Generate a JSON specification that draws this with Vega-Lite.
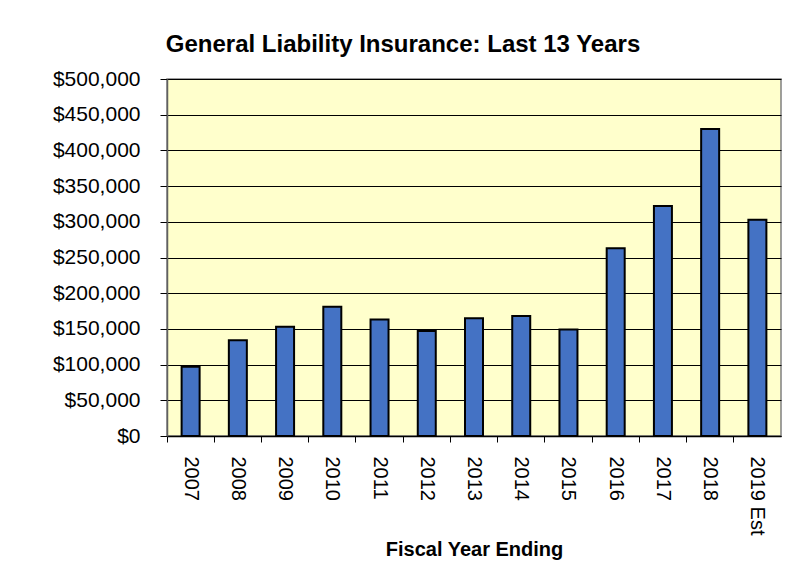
{
  "$schema": "https://vega.github.io/schema/vega-lite/v6.json",
  "autosize": {"type": "none"},
  "width": 614,
  "height": 357,
  "padding": {"left": 167, "top": 79, "right": 19, "bottom": 144},
  "background": "white",
  "title": {
    "text": "General Liability Insurance: Last 13 Years",
    "font": "Liberation Sans",
    "fontSize": 24,
    "fontWeight": "bold",
    "color": "black",
    "anchor": "middle",
    "dx": -71,
    "offset": 11
  },
  "config": {
    "view": {"fill": "#FFFFCC", "stroke": "#808080", "strokeWidth": 1.5},
    "font": "Liberation Sans"
  },
  "data": {
    "values": [
      {"year": "2007", "cost": 97000},
      {"year": "2008", "cost": 134000},
      {"year": "2009", "cost": 153000},
      {"year": "2010", "cost": 181000},
      {"year": "2011", "cost": 163000},
      {"year": "2012", "cost": 147000},
      {"year": "2013", "cost": 165000},
      {"year": "2014", "cost": 168000},
      {"year": "2015", "cost": 149000},
      {"year": "2016", "cost": 263000},
      {"year": "2017", "cost": 322000},
      {"year": "2018", "cost": 430000},
      {"year": "2019 Est", "cost": 303000}
    ]
  },
  "mark": {"type": "bar", "width": 18, "fill": "#4472C4", "stroke": "black", "strokeWidth": 2},
  "encoding": {
    "x": {
      "field": "year",
      "type": "nominal",
      "sort": null,
      "scale": {"paddingInner": 0, "paddingOuter": 0},
      "axis": {
        "title": "Fiscal Year Ending",
        "titleFont": "Liberation Sans",
        "titleFontSize": 20,
        "titleFontWeight": "bold",
        "titleColor": "black",
        "titlePadding": 5,
        "labelAngle": 90,
        "labelFont": "Liberation Sans",
        "labelFontSize": 20,
        "labelColor": "black",
        "labelPadding": 14,
        "labelAlign": "left",
        "labelBaseline": "middle",
        "bandPosition": 0,
        "ticks": true,
        "tickSize": 6,
        "tickColor": "black",
        "tickWidth": 1,
        "domainColor": "black",
        "domainWidth": 1.5,
        "grid": false
      }
    },
    "y": {
      "field": "cost",
      "type": "quantitative",
      "scale": {"domain": [0, 500000], "nice": false},
      "axis": {
        "title": null,
        "values": [0, 50000, 100000, 150000, 200000, 250000, 300000, 350000, 400000, 450000, 500000],
        "format": "$,.0f",
        "labelFont": "Liberation Sans",
        "labelFontSize": 21,
        "labelColor": "black",
        "labelPadding": 20,
        "tickSize": 7,
        "tickColor": "black",
        "tickWidth": 1,
        "domainColor": "#606060",
        "domainWidth": 1.5,
        "grid": true,
        "gridColor": "black",
        "gridWidth": 1
      }
    }
  }
}
